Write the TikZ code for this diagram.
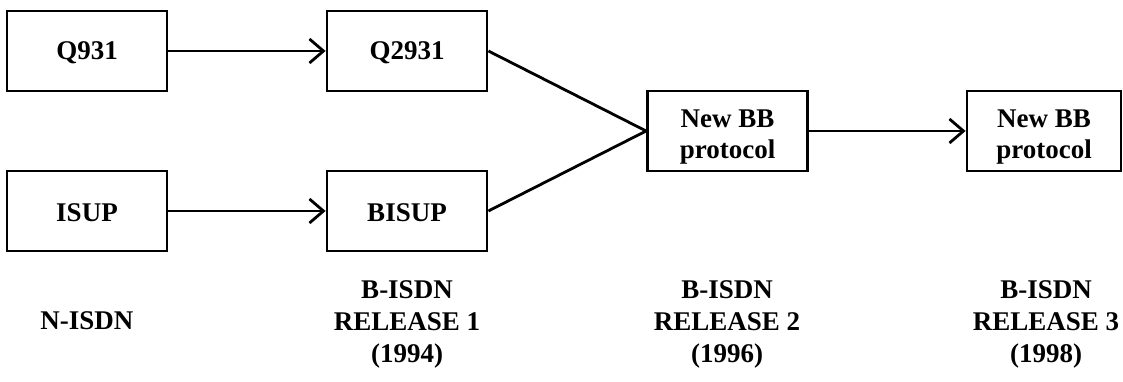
\documentclass[tikz,border=0pt]{standalone}
\usepackage{fontspec}
\setmainfont{Liberation Serif}
\usetikzlibrary{arrows.meta}
\newcommand{\topstrut}[1]{\rule{0pt}{#1}}
\tikzset{
  box/.style={draw, line width=2.8pt, minimum width=160pt, minimum height=80pt,
    inner sep=0pt, align=center, font=\fontsize{27}{31}\selectfont\bfseries},
  label/.style={align=center, inner sep=0pt,
    font=\fontsize{27}{32}\selectfont\bfseries},
  link/.style={line width=2.8pt},
  flow/.style={link, -{Straight Barb[length=14pt,width=24pt,line width=2.8pt]}}
}
\begin{document}
\begin{tikzpicture}[x=1pt,y=1pt]
  \useasboundingbox (0,0) rectangle (1123,382);
  % protocol boxes
  \node[box] (q931)  at (87,331)  {\topstrut{22pt}Q931};
  \node[box] (q2931) at (407,331) {\topstrut{22pt}Q2931};
  \node[box] (isup)  at (87,171)  {\topstrut{22pt}ISUP};
  \node[box] (bisup) at (407,171) {\topstrut{22pt}BISUP};
  \node[box] (nbb1)  at (727.5,251) {\topstrut{30pt}New BB\\protocol};
  \node[box, minimum width=154pt] (nbb2) at (1044,251) {\topstrut{30pt}New BB\\protocol};
  % connectors
  \draw[flow] (q931.east) -- (q2931.west);
  \draw[flow] (isup.east) -- (bisup.west);
  \draw[link] (q2931.east) -- (nbb1.west);
  \draw[link] (bisup.east) -- (nbb1.west);
  \draw[flow] (nbb1.east) -- (nbb2.west);
  % release labels
  \node[label] (ln)  at (87,61)   {N-ISDN};
  \node[label] (lr1) at (407,58)  {B-ISDN\\RELEASE 1\\(1994)};
  \node[label] (lr2) at (727,58)  {B-ISDN\\RELEASE 2\\(1996)};
  \node[label] (lr3) at (1046,58) {B-ISDN\\RELEASE 3\\(1998)};
\end{tikzpicture}
\end{document}
